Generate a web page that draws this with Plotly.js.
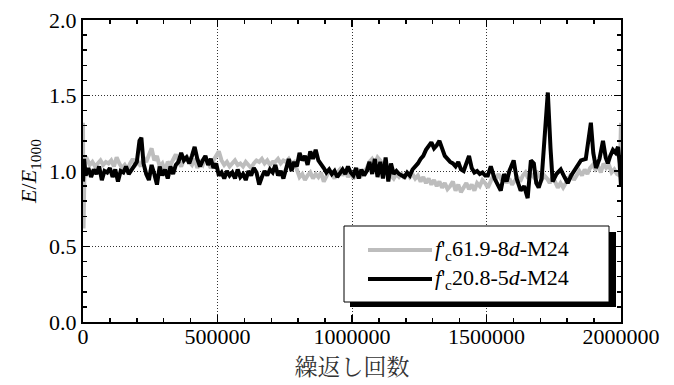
<!DOCTYPE html>
<html>
<head>
<meta charset="utf-8">
<script src="https://cdn.plot.ly/plotly-3.0.1.min.js"></script>
<style>html,body{margin:0;padding:0;background:#fff;}#chart{width:674px;height:385px;}</style>
</head>
<body>
<div id="chart"></div>
<script>
// Series A: f'c61.9-8d-M24 (gray)
const cyclesA = [0,2000,6000,15000,25000,35000,45000,55000,65000,75000,85000,95000,105000,115000,125000,135000,145000,155000,165000,175000,185000,195000,205000,215000,225000,235000,245000,255000,265000,275000,285000,295000,305000,315000,325000,335000,345000,355000,365000,375000,385000,395000,405000,415000,425000,435000,445000,455000,465000,475000,485000,495000,505000,515000,525000,535000,545000,555000,565000,575000,585000,595000,605000,615000,625000,635000,645000,655000,665000,675000,685000,695000,705000,715000,725000,735000,745000,755000,765000,775000,785000,795000,805000,815000,825000,835000,845000,855000,865000,875000,885000,895000,905000,915000,925000,935000,945000,955000,965000,975000,985000,995000,1005000,1015000,1025000,1035000,1045000,1055000,1065000,1075000,1085000,1095000,1105000,1115000,1125000,1135000,1145000,1155000,1165000,1175000,1185000,1195000,1205000,1215000,1225000,1235000,1245000,1255000,1265000,1275000,1285000,1295000,1305000,1315000,1325000,1335000,1345000,1355000,1365000,1375000,1385000,1395000,1405000,1415000,1425000,1435000,1445000,1455000,1465000,1475000,1485000,1495000,1505000,1515000,1525000,1535000,1545000,1555000,1565000,1575000,1585000,1595000,1605000,1615000,1625000,1635000,1645000,1655000,1665000,1675000,1685000,1695000,1705000,1715000,1725000,1735000,1745000,1755000,1765000,1775000,1785000,1795000,1805000,1815000,1825000,1835000,1845000,1855000,1865000,1875000,1885000,1895000,1905000,1915000,1925000,1935000,1945000,1955000,1965000,1975000,1985000,1995000,2000000];
const ratioA = [1.32,0.62,1.07,1.08,1.04,1.06,1.03,1.05,1.07,1.04,1.06,1.05,1.07,1.03,1.09,1.05,1.02,1.04,1.01,1.05,1.08,1.04,1.06,1.03,1.09,1.06,1.10,1.15,1.07,1.10,1.03,1.05,1.00,1.06,1.04,1.08,1.11,1.06,1.03,1.07,1.10,1.06,1.04,1.08,1.02,1.06,1.04,1.09,1.05,1.02,1.07,1.10,1.13,1.07,1.04,1.06,1.03,1.05,1.07,1.04,1.05,1.03,1.06,1.04,1.02,1.05,1.07,1.06,1.08,1.05,1.07,1.04,1.06,1.06,1.08,1.05,1.07,1.06,1.08,1.05,1.06,1.01,0.96,0.98,0.94,0.97,0.99,0.95,0.98,0.96,0.99,0.93,0.97,1.00,0.98,0.95,0.99,1.01,0.97,1.00,0.96,0.99,0.95,0.98,1.00,0.97,0.99,1.02,1.06,1.08,1.05,1.09,1.07,1.04,1.06,0.99,0.97,0.95,0.98,0.96,0.98,0.95,0.99,0.96,0.98,0.95,0.97,0.93,0.96,0.92,0.95,0.91,0.94,0.90,0.93,0.89,0.92,0.88,0.90,0.93,0.87,0.91,0.86,0.89,0.92,0.88,0.91,0.87,0.92,0.90,0.94,0.92,0.89,0.93,0.97,0.95,0.98,0.94,0.97,0.92,0.95,0.91,0.94,0.96,0.93,0.97,0.99,0.95,0.98,0.96,1.00,0.97,0.94,0.97,0.95,0.92,0.96,0.93,0.89,0.92,0.89,0.92,0.95,0.98,0.94,0.97,1.00,0.97,1.01,0.98,1.02,1.04,1.01,1.03,0.99,1.05,1.02,1.04,0.99,1.01,0.98,0.97,1.32];

// Series B: f'c20.8-5d-M24 (black)
const cyclesB = [0,4000,10000,20000,30000,40000,50000,60000,70000,80000,90000,100000,110000,120000,130000,140000,150000,160000,170000,180000,190000,200000,210000,217000,225000,235000,245000,255000,265000,275000,285000,295000,305000,315000,325000,335000,345000,355000,365000,375000,385000,395000,405000,415000,425000,435000,445000,455000,465000,475000,485000,495000,505000,515000,525000,535000,545000,555000,565000,575000,585000,595000,605000,615000,625000,635000,645000,655000,665000,675000,685000,695000,705000,715000,725000,735000,745000,755000,765000,775000,785000,795000,805000,815000,825000,835000,845000,855000,865000,875000,885000,895000,905000,915000,925000,935000,945000,955000,965000,975000,985000,995000,1005000,1015000,1025000,1035000,1045000,1055000,1065000,1075000,1085000,1095000,1105000,1115000,1125000,1135000,1145000,1155000,1165000,1175000,1185000,1195000,1205000,1215000,1225000,1235000,1245000,1255000,1265000,1275000,1285000,1295000,1305000,1315000,1325000,1335000,1345000,1355000,1365000,1375000,1385000,1395000,1405000,1415000,1425000,1435000,1445000,1455000,1465000,1475000,1485000,1495000,1505000,1516000,1530000,1545000,1553000,1565000,1575000,1585000,1601000,1612000,1627000,1640000,1653000,1665000,1676000,1685000,1694000,1705000,1715000,1728000,1738000,1746000,1760000,1776000,1790000,1802000,1815000,1832000,1851000,1869000,1880000,1888000,1897000,1907000,1920000,1933000,1943000,1951000,1960000,1970000,1980000,1989000,1995000,2000000];
const ratioB = [0.93,1.08,0.97,1.02,0.96,1.01,0.98,1.03,0.94,1.00,0.99,1.02,0.96,1.01,0.93,1.00,0.99,1.03,0.98,1.01,1.04,1.06,1.20,1.22,1.05,0.98,0.94,1.04,0.98,0.91,1.03,0.97,1.01,0.95,1.03,0.98,1.04,1.06,1.12,1.07,1.09,1.05,1.10,1.16,1.08,1.03,1.07,1.10,1.04,1.08,1.02,1.05,0.97,0.99,0.95,1.00,0.97,0.99,0.95,1.01,0.96,0.98,0.94,1.00,0.97,1.02,0.99,0.91,0.96,1.00,0.97,1.01,0.99,1.04,0.97,1.00,0.95,1.02,1.08,1.00,1.06,1.03,1.12,1.07,1.10,1.04,1.13,1.08,1.14,1.07,1.05,1.02,0.99,1.01,0.98,1.00,0.96,0.99,1.01,0.98,1.03,0.99,0.97,1.02,0.95,1.01,0.97,1.00,1.06,0.98,1.08,0.96,1.06,0.95,1.09,0.93,1.05,0.98,1.00,0.98,0.97,0.96,0.99,0.97,1.01,1.03,1.05,1.08,1.10,1.14,1.17,1.19,1.15,1.17,1.20,1.14,1.10,1.08,1.06,1.05,1.03,1.06,1.01,1.00,1.06,1.10,1.02,0.99,1.00,0.98,0.99,0.97,0.97,1.03,0.95,0.90,0.87,0.98,0.93,1.00,1.07,0.95,0.87,0.90,0.82,1.07,1.05,0.92,0.89,0.95,1.20,1.52,1.15,0.93,0.98,1.01,0.96,0.92,0.97,1.02,1.07,1.08,1.20,1.32,1.12,1.02,1.08,1.20,1.09,1.05,1.10,1.14,1.12,1.16,1.05,0.90];

const nameA = "<i>f</i>'<sub>c</sub>61.9-8<i>d</i>-M24";
const nameB = "<i>f</i>'<sub>c</sub>20.8-5<i>d</i>-M24";
const colorA = '#bdbdbd';
const colorB = '#000000';
const xTickVals = [0,500000,1000000,1500000,2000000];
const xTickText = ["0","500000","1000000","1500000","2000000"];
const yTickVals = [0,0.5,1.0,1.5,2.0];
const yTickText = ["0.0","0.5","1.0","1.5","2.0"];

const SERIF = 'Times New Roman';
const FS = 22;

const traces = [
  {x: cyclesA, y: ratioA, type: 'scatter', mode: 'lines', name: nameA,
   line: {color: colorA, width: 4}, showlegend: false},
  {x: cyclesB, y: ratioB, type: 'scatter', mode: 'lines', name: nameB,
   line: {color: colorB, width: 4}, showlegend: false}
];

function axisBase() {
  return {
    showline: true, linecolor: '#000', linewidth: 2, mirror: 'ticks',
    ticks: 'inside', ticklen: 7, tickwidth: 1.5, tickcolor: '#000',
    showgrid: true, gridcolor: '#333', gridwidth: 1, griddash: '1px,2px',
    zeroline: false, tickfont: {family: SERIF, size: FS, color: '#000'}
  };
}

// Legend drawn in paper space (plot area: x 83..621 px, y 20..322 px)
const PX = p => (p - 83) / 538;
const PY = p => (322 - p) / 302;

const xaxis = axisBase();
Object.assign(xaxis, {
  range: [0, 2000000], tickmode: 'array', tickvals: xTickVals, ticktext: xTickText,
  ticklabelstandoff: -6,
  minor: {dtick: 100000, ticks: 'inside', ticklen: 4, tickcolor: '#000', showgrid: false},
  title: {text: '繰返し回数', font: {family: 'Noto Serif CJK JP', size: 23, color: '#333'}, standoff: 4}
});
const yaxis = axisBase();
Object.assign(yaxis, {
  range: [0, 2.0], tickmode: 'array', tickvals: yTickVals, ticktext: yTickText,
  minor: {dtick: 0.1, ticks: 'inside', ticklen: 4, tickcolor: '#000', showgrid: false},
  title: {text: '<i>E</i>/<i>E</i><sub>1000</sub>', font: {family: SERIF, size: FS, color: '#000'}, standoff: 6}
});

const layout = {
  width: 674, height: 385,
  margin: {l: 83, r: 53, t: 20, b: 63},
  paper_bgcolor: '#fff', plot_bgcolor: '#fff',
  showlegend: false,
  xaxis: xaxis,
  yaxis: yaxis,
  shapes: [
    {type: 'rect', xref: 'paper', yref: 'paper', layer: 'above',
     x0: PX(350), x1: PX(616), y0: PY(307), y1: PY(232),
     fillcolor: '#000', line: {width: 0}},
    {type: 'rect', xref: 'paper', yref: 'paper', layer: 'above',
     x0: PX(344), x1: PX(609), y0: PY(302), y1: PY(226),
     fillcolor: '#fff', line: {color: '#000', width: 1}},
    {type: 'line', xref: 'paper', yref: 'paper', layer: 'above',
     x0: PX(368), x1: PX(432), y0: PY(250), y1: PY(250),
     line: {color: colorA, width: 4}},
    {type: 'line', xref: 'paper', yref: 'paper', layer: 'above',
     x0: PX(368), x1: PX(432), y0: PY(279), y1: PY(279),
     line: {color: colorB, width: 4}}
  ],
  annotations: [
    {xref: 'paper', yref: 'paper', x: PX(433), y: PY(250), xanchor: 'left', yanchor: 'middle',
     text: nameA, showarrow: false, font: {family: SERIF, size: FS, color: '#000'}},
    {xref: 'paper', yref: 'paper', x: PX(433), y: PY(279), xanchor: 'left', yanchor: 'middle',
     text: nameB, showarrow: false, font: {family: SERIF, size: FS, color: '#000'}}
  ]
};

Plotly.newPlot('chart', traces, layout, {staticPlot: true, displayModeBar: false});
</script>
</body>
</html>
